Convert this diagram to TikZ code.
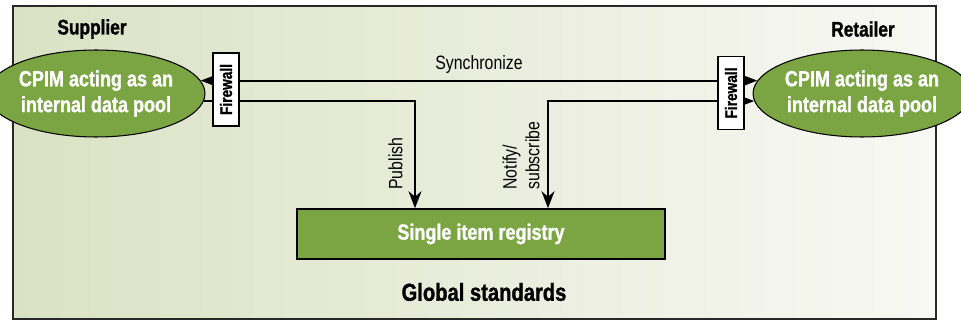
\documentclass[tikz,border=0pt]{standalone}
\usepackage{fontspec}
\setmainfont{Liberation Sans}[FakeStretch=0.82, BoldFeatures={FakeBold=1.2}]
\usetikzlibrary{shapes.geometric,arrows.meta}
\definecolor{cpimgreen}{RGB}{122,165,66}
\definecolor{bgleft}{RGB}{218,226,196}
\definecolor{bgright}{RGB}{248,248,244}
\definecolor{edgegray}{RGB}{40,40,40}
\tikzset{%
  pool/.style={ellipse, draw=black, line width=0.6pt, fill=cpimgreen, text=white,
    align=center, inner sep=0pt, minimum width=3.84cm, minimum height=1.74cm,
    font=\bfseries\fontsize{12.5}{14.7}\selectfont},
  registry/.style={rectangle, draw=black, line width=0.9pt, fill=cpimgreen, text=white,
    minimum width=7.36cm, minimum height=1cm, font=\bfseries\fontsize{12.5}{15}\selectfont},
  firewall/.style={rectangle, draw=black, line width=0.6pt, fill=white, rotate=90,
    minimum width=1.46cm, minimum height=0.52cm, inner sep=0pt,
    font=\bfseries\fontsize{9.5}{11}\selectfont},
  party/.style={font=\bfseries\fontsize{12}{14}\selectfont},
  flowlabel/.style={font=\fontsize{11}{13}\selectfont},
  flow/.style={line width=1.1pt, >={Stealth[length=0.34cm,width=0.26cm]}},
}

\begin{document}
\begin{tikzpicture}[x=0.02cm,y=0.02cm]
  \useasboundingbox (0,0) rectangle (961,322);
  % frame with the green to white background
  \draw[line width=0.8pt, draw=edgegray, left color=bgleft, right color=bgright]
    (13,3) rectangle (936,316);

  % the two data pools and the registry
  \node[pool] (sup) at (96,228.5) {CPIM acting as an\\internal data pool};
  \node[pool] (ret) at (862,228.5) {CPIM acting as an\\internal data pool};
  \node[party] (suplabel) at (92,293) {Supplier};
  \node[party] (retlabel) at (863,293) {Retailer};
  \node[registry] (reg) at (481,88) {Single item registry};
  \node[party, font=\bfseries\fontsize{14}{16}\selectfont] (global) at (484,30) {Global standards};

  % flows
  \coordinate (pubx) at (415,0);
  \coordinate (notx) at (548,0);
  \draw[flow,<->] (sup.7) -- (ret.173);
  \draw[flow,->] (sup.-4.5) -| (pubx |- reg.north);
  \draw[flow,<->] (ret.184.5) -| (notx |- reg.north);
  \node[flowlabel] (sync) at (479,257) {Synchronize};
  \node[flowlabel, rotate=90, anchor=south west, inner sep=0pt] (publish) at (403,132) {Publish};
  \node[flowlabel, rotate=90, anchor=south west, inner sep=0pt, align=left] (notify) at (540,132)
    {Notify/\\subscribe};

  % firewalls sit on top of the lines
  \foreach \fw/\pos in {supfw/{(226,232.5)}, retfw/{(731,229)}}
    \node[firewall] (\fw) at \pos {Firewall};
\end{tikzpicture}
\end{document}
